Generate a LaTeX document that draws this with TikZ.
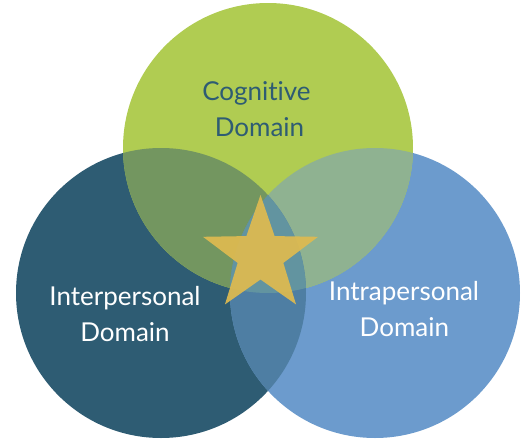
\documentclass[tikz,border=0pt]{standalone}
\usepackage{fontspec}
\setmainfont[Ligatures={NoCommon}]{Lato}
\definecolor{cG}{HTML}{B0CC52}
\definecolor{cL}{HTML}{2E5C73}
\definecolor{cR}{HTML}{6C9BCD}
\definecolor{cLG}{HTML}{739660}
\definecolor{cRG}{HTML}{8FB291}
\definecolor{cLR}{HTML}{4E7EA3}
\definecolor{cLRG}{HTML}{6294A0}
\definecolor{cStar}{HTML}{DEBA50}
\definecolor{cTxt}{HTML}{2E5C73}
\begin{document}
\begin{tikzpicture}[x=1pt,y=-1pt,
  lbl/.style={font=\fontsize{26}{36}\selectfont, inner sep=0pt, anchor=base},
  darklbl/.style={lbl, text=cTxt},
  lightlbl/.style={lbl, text=white},
  starfill/.style={fill=cStar, opacity=0.93}]
\useasboundingbox (0,0) rectangle (531,442);
\coordinate (cogc) at (268,148);
\coordinate (interc) at (161,293);
\coordinate (intrac) at (375,293);
\def\cG{(cogc) circle (145pt)}
\def\cL{(interc) circle (145pt)}
\def\cR{(intrac) circle (145pt)}
% circles
\fill[cL] \cL;
\fill[cR] \cR;
\fill[cG] \cG;
% overlaps
\begin{scope}\clip \cL; \fill[cLG] \cG; \end{scope}
\begin{scope}\clip \cR; \fill[cRG] \cG; \end{scope}
\begin{scope}\clip \cL; \fill[cLR] \cR; \end{scope}
\begin{scope}\clip \cL; \clip \cR; \fill[cLRG] \cG; \end{scope}
% star
\begin{scope}[shift={(260.5,255.5)}]
\fill[starfill] (-90:60.5) -- (-54:24) -- (-18:60.5) -- (18:24) -- (54:60.5)
  -- (90:24) -- (126:60.5) -- (162:24) -- (198:60.5) -- (234:24) -- cycle;
\end{scope}
% labels
\node[darklbl] (cog1) at (256.5,100.7) {Cognitive};
\node[darklbl] (cog2) at (259.5,136.7) {Domain};
\node[lightlbl] (inter1) at (125,305) {Interpersonal};
\node[lightlbl] (inter2) at (125,341) {Domain};
\node[lightlbl] (intra1) at (404,300) {Intrapersonal};
\node[lightlbl] (intra2) at (404.4,336.5) {Domain};
\end{tikzpicture}
\end{document}
